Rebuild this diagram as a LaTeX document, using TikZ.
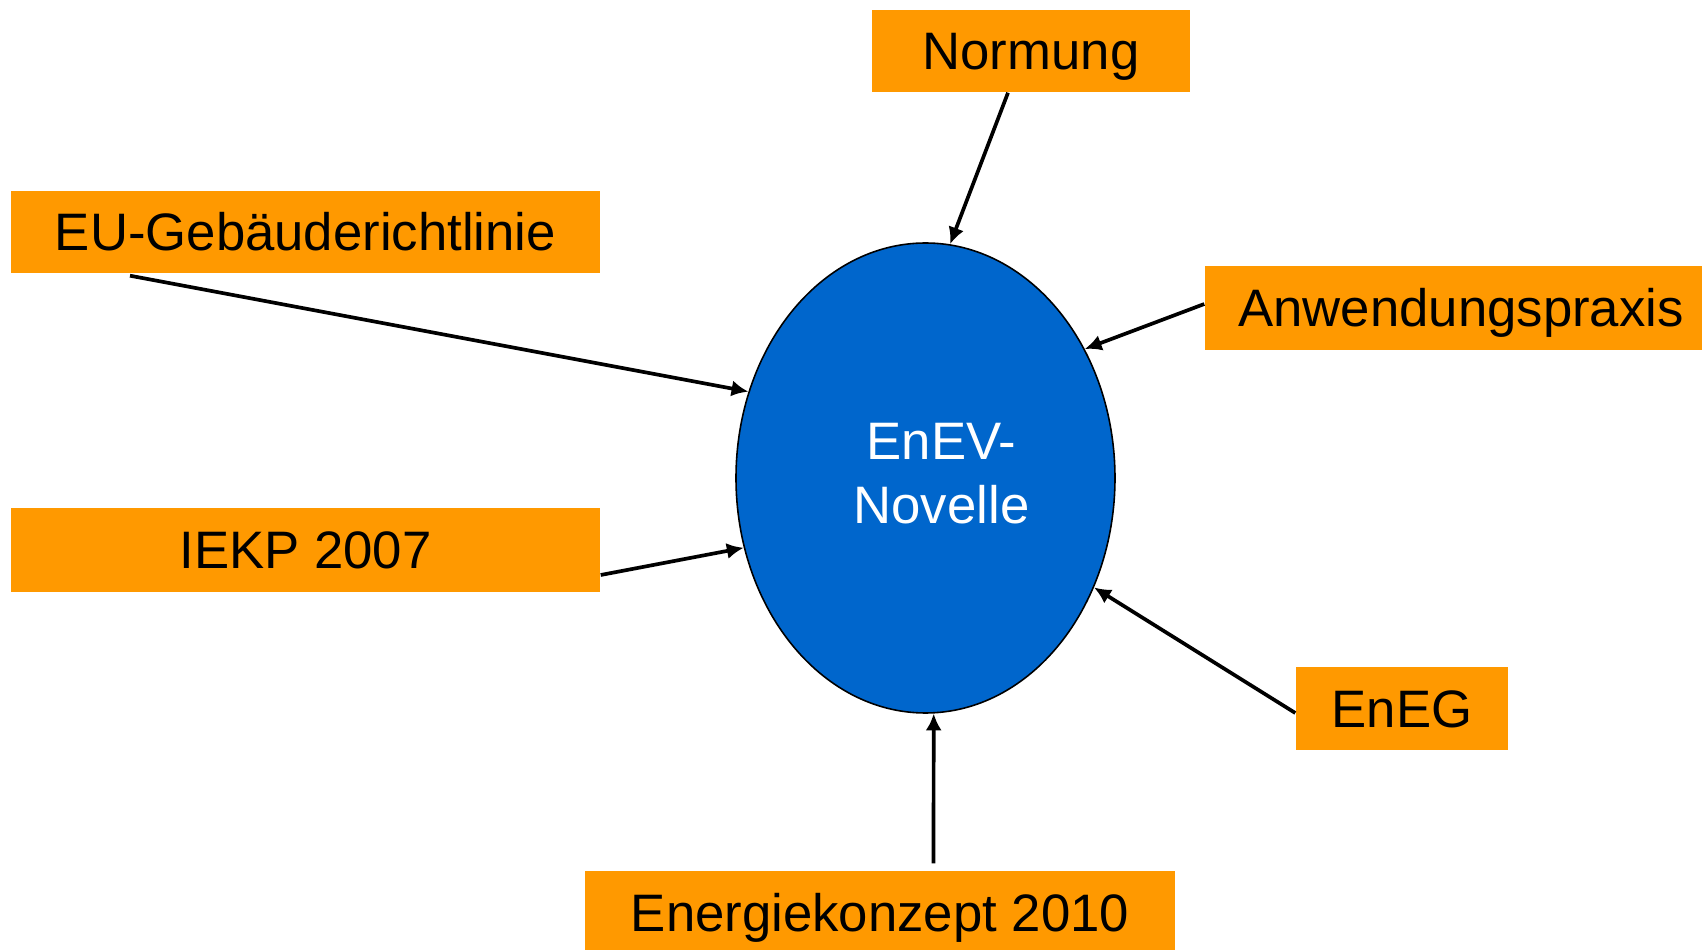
\documentclass[tikz,border=0pt]{standalone}
\usepackage{fontspec}
\setmainfont{Liberation Sans}
\usetikzlibrary{shapes.geometric,arrows.meta}
\definecolor{boxOrange}{HTML}{FF9900}
\definecolor{enevBlue}{HTML}{0066CC}

\begin{document}
\begin{tikzpicture}
[boxDecorate/.style={shape=rectangle,fill=boxOrange,inner sep=0pt,text height=0.38cm,text depth=0pt},%
  ellipseDecorate/.style={shape=ellipse,fill=enevBlue,draw=black,line width=0.45pt,inner sep=0pt},%
  arrowDecorate/.style={-{Latex[length=4.8pt,width=4.6pt]},line width=1.05pt},%
  font=\fontsize{15}{18.2}\selectfont]
\useasboundingbox (0,0) rectangle (17.02,9.49);
%% boxes
\foreach \nodename/\x/\y/\w/\h/\nodetext in {
  normung/10.31/8.98/3.18/0.82/Normung,
  gebrl/3.055/7.17/5.89/0.82/EU-Gebäuderichtlinie,
  iekp/3.055/3.99/5.89/0.84/IEKP 2007,
  anwpraxis/14.61/6.41/5.12/0.84/Anwendungspraxis,
  eneg/14.02/2.405/2.12/0.83/EnEG,
  ekonzept/8.80/0.365/5.90/0.83/Energiekonzept 2010}
{
  \node (\nodename) at (\x,\y) [boxDecorate,minimum width=\w cm,minimum height=\h cm] {\nodetext};
}
%% centre ellipse
\node (enev) at (9.255,4.71) [ellipseDecorate,minimum width=3.79cm,minimum height=4.70cm] {};
\node (enevtext) at (9.415,4.755) [text=white,align=center] {EnEV-\\Novelle};
%% arrows
\path
\foreach \startnode/\dx/\dy/\endangle in {
  normung.south/-0.23/0/84, gebrl.south/-1.755/-0.02/154,
  iekp.east/0/-0.25/201, anwpraxis.west/0/0.04/39,
  eneg.west/0/-0.045/327, ekonzept.north/0.535/0.07/272}
{
  ([xshift=\dx cm,yshift=\dy cm]\startnode) edge[arrowDecorate] (enev.\endangle)
};
\end{tikzpicture}
\end{document}
